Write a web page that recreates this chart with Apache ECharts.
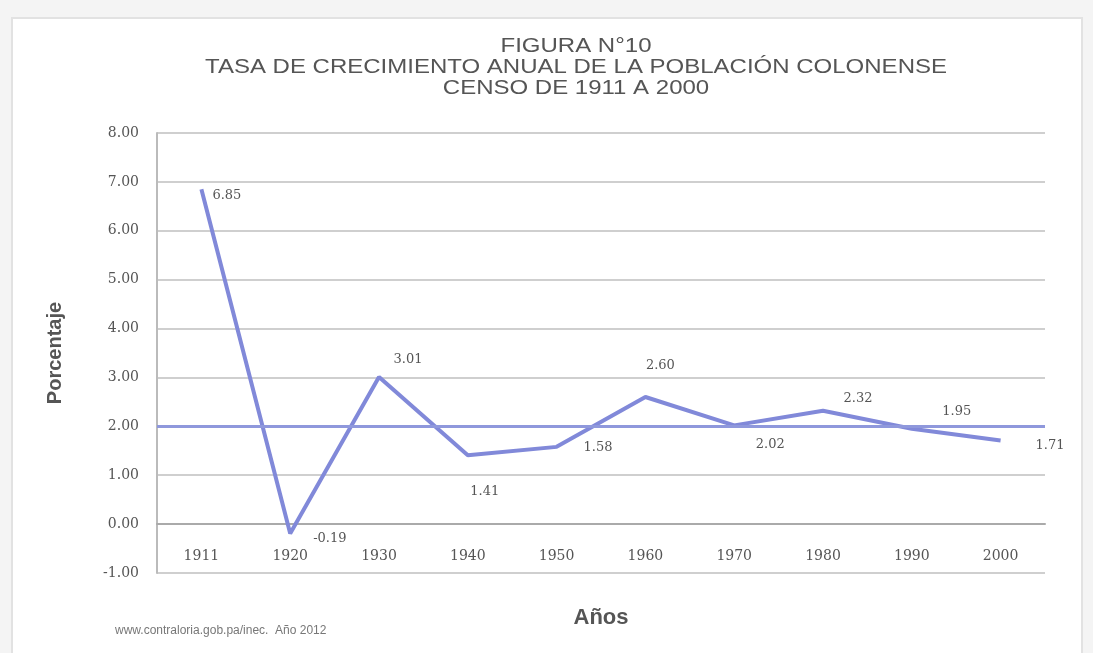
<!DOCTYPE html>
<html>
<head>
<meta charset="utf-8">
<script src="https://cdn.jsdelivr.net/npm/echarts@6/dist/echarts.min.js"></script>
<style>
  html, body { margin: 0; padding: 0; background: #f4f4f4; }
  #chart { width: 1093px; height: 653px; }
</style>
</head>
<body>
<div id="chart"></div>
<script>
// datos
const years = ['1911', '1920', '1930', '1940', '1950', '1960', '1970', '1980', '1990', '2000']
const tasa = [6.85, -0.19, 3.01, 1.41, 1.58, 2.60, 2.02, 2.32, 1.95, 1.71]
const refLine = 2.00
const titleLines = [
  'FIGURA N°10',
  'TASA DE CRECIMIENTO ANUAL DE LA POBLACIÓN COLONENSE',
  'CENSO DE 1911 A 2000'
]

// colocación de las etiquetas, como en el original (solo estilo)
const labelPos = ['right', 'right', 'top', 'bottom', 'right', 'top', 'bottom', 'top', 'top', 'right']
const labelShift = [[0, 6], [12, 5], [29, 0], [17, 19], [16, 1], [15, -14], [36, 2], [35, 5], [45, 0], [24, 5]]

const LINE_COLOR = '#8189d9'
const TEXT_COLOR = '#555'
const SERIF = '"DejaVu Serif", "Liberation Serif", serif'

const chart = echarts.init(document.getElementById('chart'))

const option = {
  backgroundColor: '#f4f4f4',
  animation: false,
  graphic: [
    {
      type: 'rect',
      shape: { x: 12, y: 18, width: 1070, height: 640 },
      style: { fill: '#fff', stroke: '#e2e2e2', lineWidth: 2 },
      z: -10
    },
    // título estirado a lo ancho, como en el escaneo
    {
      type: 'text',
      x: 576,
      y: 67,
      scaleX: 1.2,
      style: {
        text: titleLines.join('\n'),
        font: '20px "Liberation Sans", Arial',
        lineHeight: 21,
        fill: '#555',
        align: 'center',
        verticalAlign: 'middle'
      }
    },
    {
      type: 'text',
      left: 115,
      top: 625,
      style: {
        text: 'www.contraloria.gob.pa/inec.  Año 2012',
        font: '12px "Liberation Sans", Arial',
        fill: '#777'
      }
    }
  ],
  grid: { left: 157, right: 48, top: 133, bottom: 80, outerBoundsMode: 'none' },
  xAxis: {
    type: 'category',
    data: years,
    boundaryGap: true,
    name: 'Años',
    nameLocation: 'middle',
    nameGap: 34,
    nameTextStyle: { fontFamily: 'Liberation Sans, Arial', fontWeight: 'bold', fontSize: 22, color: '#555' },
    axisLine: { onZero: true, lineStyle: { color: '#aaa', width: 2 } },
    axisTick: { show: false },
    axisLabel: {
      margin: -24,
      fontFamily: SERIF,
      fontSize: 14,
      color: TEXT_COLOR
    }
  },
  yAxis: {
    type: 'value',
    min: -1,
    max: 8,
    interval: 1,
    name: 'Porcentaje',
    nameLocation: 'middle',
    nameGap: 92,
    nameTextStyle: { fontFamily: 'Liberation Sans, Arial', fontWeight: 'bold', fontSize: 20, color: '#555' },
    axisLine: { show: true, lineStyle: { color: '#bbb', width: 2 } },
    axisTick: { show: false },
    splitLine: { lineStyle: { color: '#cfcfcf', width: 2 } },
    axisLabel: {
      margin: 18,
      fontFamily: SERIF,
      fontSize: 14,
      color: TEXT_COLOR,
      formatter: v => v.toFixed(2)
    }
  },
  series: [
    {
      type: 'line',
      data: tasa.map((v, i) => ({
        value: v,
        label: { position: labelPos[i], offset: labelShift[i] }
      })),
      symbol: 'circle',
      symbolSize: 2,
      showAllSymbol: true,
      itemStyle: { color: 'rgba(0,0,0,0)' },
      lineStyle: { color: LINE_COLOR, width: 4 },
      label: {
        show: true,
        distance: 10,
        fontFamily: SERIF,
        fontSize: 13,
        color: TEXT_COLOR,
        formatter: p => p.value.toFixed(2)
      },
      markLine: {
        silent: true,
        symbol: 'none',
        label: { show: false },
        lineStyle: { color: '#8f98dc', width: 3, type: 'solid' },
        data: [{ yAxis: refLine }]
      }
    }
  ]
}

chart.setOption(option)
</script>
</body>
</html>
